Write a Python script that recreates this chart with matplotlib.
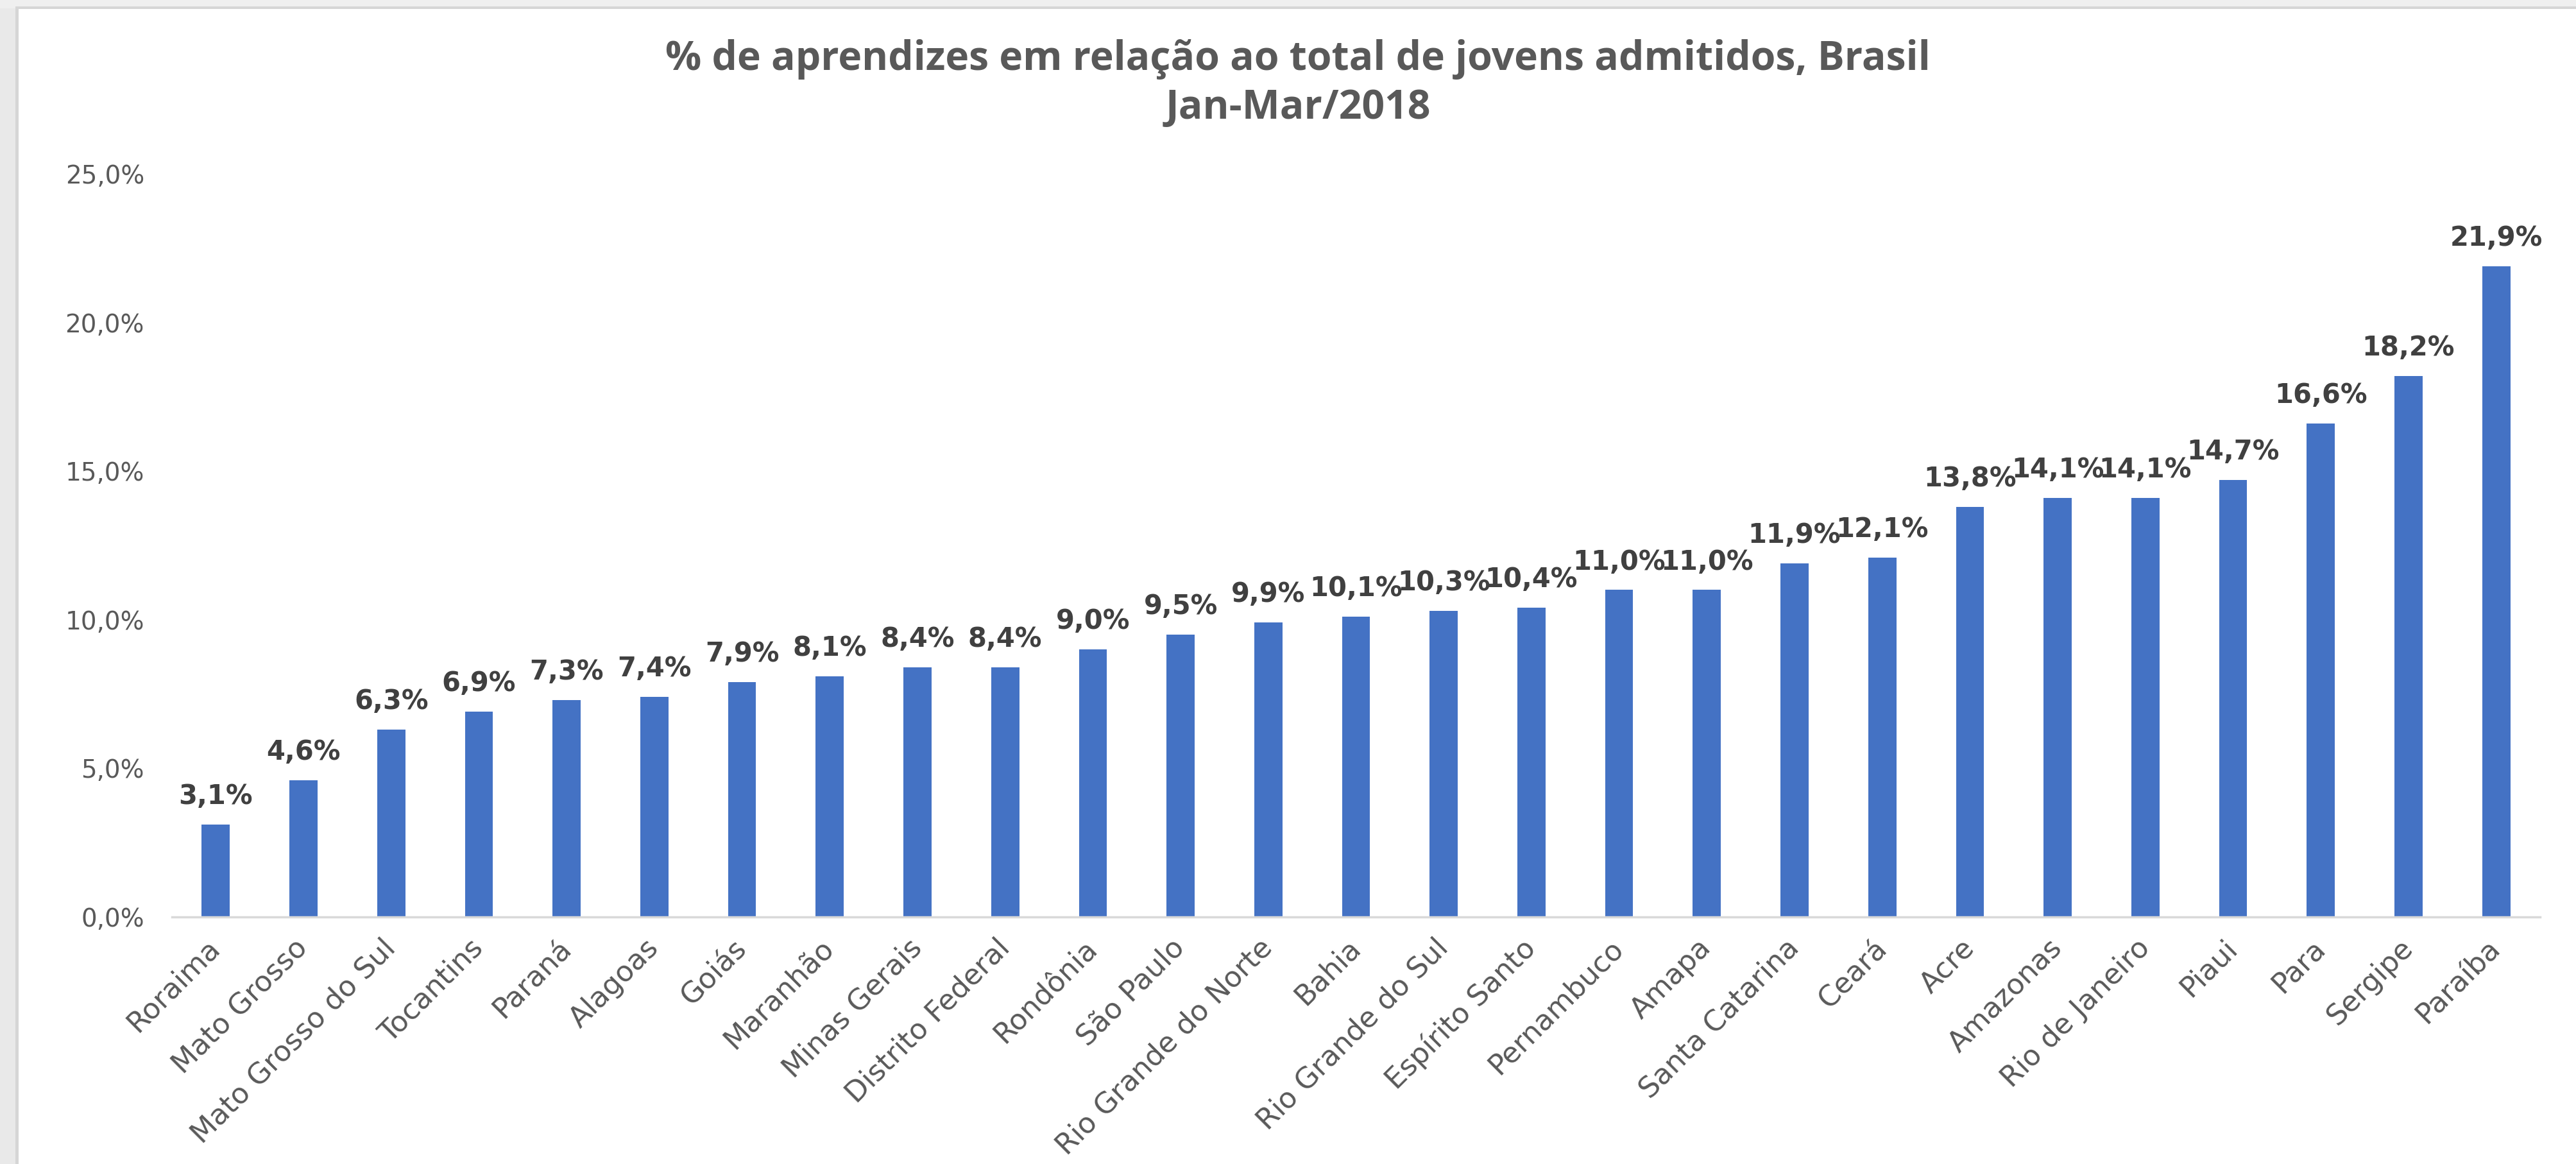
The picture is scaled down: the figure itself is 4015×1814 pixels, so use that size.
import matplotlib
matplotlib.use("Agg")
import matplotlib.pyplot as plt
from matplotlib.patches import Rectangle

# ── Data ───────────────────────────────────────────────────────────────────────
estados = [
    "Roraima", "Mato Grosso", "Mato Grosso do Sul", "Tocantins", "Paraná",
    "Alagoas", "Goiás", "Maranhão", "Minas Gerais", "Distrito Federal",
    "Rondônia", "São Paulo", "Rio Grande do Norte", "Bahia",
    "Rio Grande do Sul", "Espírito Santo", "Pernambuco", "Amapa",
    "Santa Catarina", "Ceará", "Acre", "Amazonas", "Rio de Janeiro",
    "Piaui", "Para", "Sergipe", "Paraíba",
]
pct_aprendizes = [
    3.1, 4.6, 6.3, 6.9, 7.3, 7.4, 7.9, 8.1, 8.4, 8.4,
    9.0, 9.5, 9.9, 10.1, 10.3, 10.4, 11.0, 11.0, 11.9, 12.1,
    13.8, 14.1, 14.1, 14.7, 16.6, 18.2, 21.9,
]
y_ticks = [0, 5, 10, 15, 20, 25]

TITLE_1 = "% de aprendizes em relação ao total de jovens admitidos, Brasil"
TITLE_2 = "Jan-Mar/2018"

# ── Style ──────────────────────────────────────────────────────────────────────
BAR_COLOR   = "#4472C4"
TEXT_GREY   = "#595959"
LABEL_DARK  = "#404040"
AXIS_GREY   = "#D9D9D9"

def fmt_pct(v):
    return f"{v:.1f}".replace(".", ",") + "%"

fig = plt.figure(figsize=(40.16, 18.14), dpi=100, facecolor="white")

# screenshot frame (grey strips at left and top)
fig.patches.append(Rectangle((0, 0), 28 / 4016, 1, transform=fig.transFigure,
                             facecolor="#E9E9E9", edgecolor="none", zorder=0))
fig.patches.append(Rectangle((24 / 4016, 0), 5 / 4016, 1 - 13 / 1814,
                             transform=fig.transFigure,
                             facecolor="#D6D6D6", edgecolor="none", zorder=0))
fig.patches.append(Rectangle((0, 1 - 13 / 1814), 1, 13 / 1814,
                             transform=fig.transFigure,
                             facecolor="#EFEFEF", edgecolor="none", zorder=0))
fig.patches.append(Rectangle((24 / 4016, 1 - 14 / 1814), 1, 4 / 1814,
                             transform=fig.transFigure,
                             facecolor="#D6D6D6", edgecolor="none", zorder=0))

ax = fig.add_axes([268 / 4016, 385 / 1814, (3959 - 268) / 4016, (1543 - 385) / 1814])
ax.set_facecolor("none")

x = list(range(len(estados)))
bars = ax.bar(x, pct_aprendizes, width=0.32, color=BAR_COLOR, zorder=2)

for xi, v in zip(x, pct_aprendizes):
    ax.annotate(fmt_pct(v), (xi, v), xytext=(0, 23), textcoords="offset points",
                ha="center", va="baseline", fontsize=30, fontweight="bold",
                color=LABEL_DARK, family="DejaVu Sans")

ax.set_xlim(-0.5, len(estados) - 0.5)
ax.set_ylim(0, 25)
ax.set_yticks(y_ticks)
ax.set_yticklabels([fmt_pct(t) for t in y_ticks], fontsize=28, color=TEXT_GREY)
ax.set_xticks(x)
ax.set_xticklabels(estados, rotation=45, ha="right", va="center",
                   rotation_mode="anchor", fontsize=32, color=TEXT_GREY)
ax.tick_params(axis="y", length=0, pad=31)
ax.tick_params(axis="x", length=0, pad=30)

for side in ["top", "right", "left"]:
    ax.spines[side].set_visible(False)
ax.spines["bottom"].set_color(AXIS_GREY)
ax.spines["bottom"].set_linewidth(2.5)

fig.text(2023 / 4016, 1 - 92 / 1814, TITLE_1, ha="center", va="center",
         fontsize=45, fontweight="bold", color=TEXT_GREY, family="Open Sans")
fig.text(2023 / 4016, 1 - 169 / 1814, TITLE_2, ha="center", va="center",
         fontsize=45, fontweight="bold", color=TEXT_GREY, family="Open Sans")

plt.savefig("out.png", dpi=100, facecolor="white")
